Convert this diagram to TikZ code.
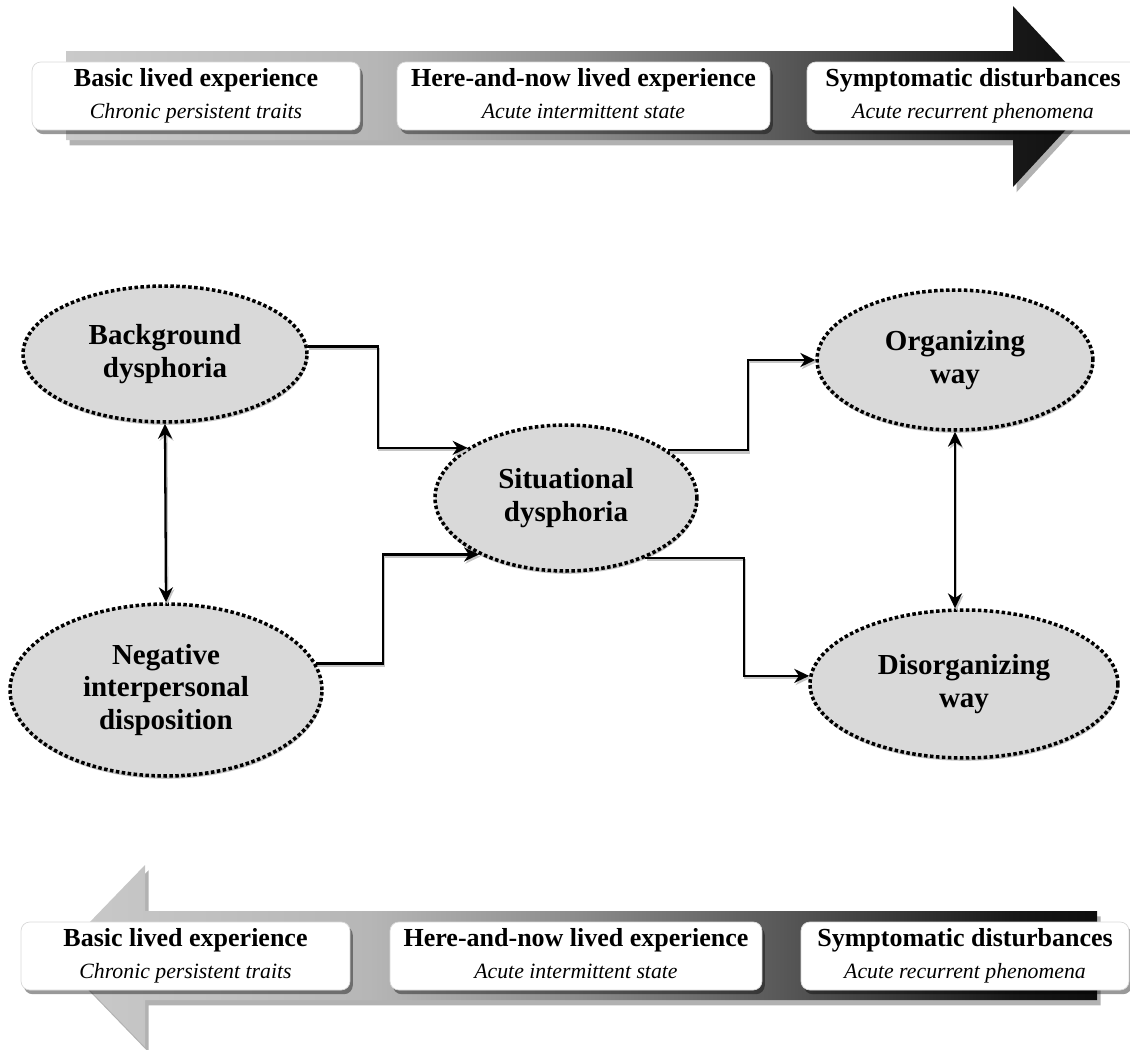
\documentclass[tikz,border=0pt]{standalone}
\usepackage{fontspec}
\setmainfont{Liberation Serif}
\usetikzlibrary{arrows.meta,shadows,shapes.geometric,calc}

% grey-to-black band colours
\definecolor{bandA}{HTML}{CACACA}
\definecolor{bandB}{HTML}{B6B6B6}
\definecolor{bandC}{HTML}{8C8C8C}
\definecolor{bandD}{HTML}{575757}
\definecolor{bandE}{HTML}{181818}
\definecolor{bandF}{HTML}{0E0E0E}
\definecolor{ellfill}{HTML}{D9D9D9}

\pgfdeclarehorizontalshading{bandshade}{100bp}{%
  color(0bp)=(bandA); color(25bp)=(bandA); color(40bp)=(bandB);
  color(50bp)=(bandC); color(60bp)=(bandD); color(71bp)=(bandE);
  color(75bp)=(bandF); color(100bp)=(bandF)}

\tikzset{hd/.tip={Stealth[length=8.5pt,width=8pt,inset=2.7pt]}}

% two-line caption of a stage box
\newcommand{\stagetext}[2]{{\fontsize{14.8}{18}\selectfont\bfseries #1\vphantom{Hp}}\\\itshape #2\vphantom{Ap}}

\begin{document}
\begin{tikzpicture}[x=0.02cm,y=-0.02cm,
  ell/.style={ellipse, fill=ellfill, draw=black, line width=2pt,
    dash pattern=on 2pt off 1.4pt, inner sep=0pt, align=center,
    font=\fontsize{16.5}{18.5}\selectfont\bfseries,
    drop shadow={shadow xshift=0.4pt, shadow yshift=-1.6pt, opacity=0.45, fill=gray}},
  stage/.style={rounded corners=5pt, fill=white, draw=gray!30, line width=0.4pt,
    inner sep=0pt, minimum height=1.36cm, align=center,
    font=\fontsize{12.4}{18}\selectfont,
    drop shadow={shadow xshift=1.6pt, shadow yshift=-2.4pt, opacity=0.4, fill=black}},
  conn/.style={line width=1.3pt, -{hd},
    preaction={draw=gray!45, line width=1.2pt,
      transform canvas={xshift=0.8pt,yshift=-1.2pt}}},
  twoway/.style={conn, {hd}-{hd}},
  band/.style={shading=bandshade,
    drop shadow={shadow xshift=2pt, shadow yshift=-3pt, opacity=0.3, fill=black}},
]
\useasboundingbox (0,0) rectangle (1130,1049);
\clip (0,0) rectangle (1130,1049);

% ---- upper band: arrow pointing right ----
\shade[band] (66,51) -- (1013,51) -- (1013,6) -- (1097,96) -- (1013,187)
  -- (1013,140) -- (66,140) -- cycle;

\node[stage, minimum width=6.56cm] (ta) at (196,96)
  {\stagetext{Basic lived experience}{Chronic persistent traits}};
\node[stage, minimum width=7.46cm] (tb) at (583.5,96)
  {\stagetext{Here-and-now lived experience}{Acute intermittent state}};
\node[stage, minimum width=6.64cm] (tc) at (973,96)
  {\stagetext{Symptomatic disturbances}{Acute recurrent phenomena}};

% ---- lower band: arrow pointing left ----
\shade[band] (1097,911) -- (145,911) -- (145,865) -- (57,956) -- (145,1047)
  -- (145,1000) -- (1097,1000) -- cycle;

\node[stage, minimum width=6.58cm] (ba) at (185.5,956)
  {\stagetext{Basic lived experience}{Chronic persistent traits}};
\node[stage, minimum width=7.44cm] (bb) at (576,956)
  {\stagetext{Here-and-now lived experience}{Acute intermittent state}};
\node[stage, minimum width=6.56cm] (bc) at (965,956)
  {\stagetext{Symptomatic disturbances}{Acute recurrent phenomena}};

% ---- dysphoria model ----
\node[ell, minimum width=5.68cm, minimum height=2.72cm] (bg) at (165,354)
  {Background\\dysphoria};
\node[ell, minimum width=6.24cm, minimum height=3.44cm] (neg) at (166,690)
  {Negative\\interpersonal\\disposition};
\node[ell, minimum width=5.24cm, minimum height=2.92cm] (sit) at (566,498)
  {Situational\\dysphoria};
\node[ell, minimum width=5.52cm, minimum height=2.8cm] (org) at (955,360)
  {Organizing\\way};
\node[ell, minimum width=6.16cm, minimum height=2.96cm] (dis) at (964,684)
  {Disorganizing\\way};

% elbow columns of the connectors
\coordinate (j1) at (378,0);
\coordinate (j2) at (383,0);
\coordinate (j3) at (748,0);
\coordinate (j4) at (744,0);

\draw[conn] (bg.3) -| (j1 |- sit.153) -- (sit.153);
\draw[conn] (neg.10) -| (j2 |- sit.213) -- (sit.213);
\draw[conn] (sit.25) -| (j3 |- org.west) -- (org.west);
\draw[conn] (sit.-37) -| (j4 |- dis.177) -- (dis.177);

\draw[twoway] (bg.south) -- (neg.north);
\draw[twoway] (org.south) -- (org.south |- dis.north);
\end{tikzpicture}
\end{document}
